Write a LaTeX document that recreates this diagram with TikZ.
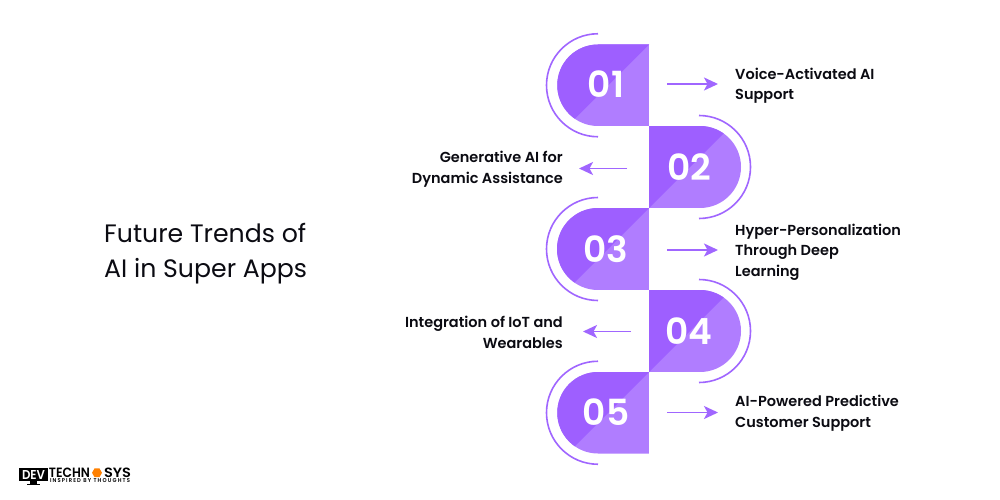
\documentclass[tikz,border=0pt]{standalone}
\usepackage{graphicx}
\usepackage{fontspec}
\setmainfont{Poppins}[BoldFont={Poppins SemiBold}]
\definecolor{pdark}{HTML}{9E5FFF}
\definecolor{plight}{HTML}{B07DFF}
\definecolor{pline}{HTML}{A066FF}
\definecolor{tx}{HTML}{0B0B12}
\usetikzlibrary{arrows.meta,shapes.geometric}
\tikzset{
  x=1pt,y=-1pt,
  numlab/.style={text=white,font=\fontsize{36}{36}\selectfont\bfseries,inner sep=0pt,anchor=center},
  rlab/.style={text=tx,font=\fontsize{14.5}{20.5}\selectfont\bfseries,align=left,anchor=west,inner sep=0pt},
  llab/.style={text=tx,font=\fontsize{14.5}{20.5}\selectfont\bfseries,align=right,anchor=east,inner sep=0pt},
  ttl/.style={text=tx,font=\fontsize{25.2}{35}\selectfont,align=left,anchor=west,inner sep=0pt},
  ringarc/.style={draw=pline,line width=1.6pt},
  flow/.style={draw=pline,line width=1.8pt,-{Stealth[length=14pt,width=13pt,inset=3.5pt]}},
  logotxt/.style={text=black,font=\bfseries,inner sep=0pt,anchor=center},
}
\newcommand{\leftcap}[2]{% top y, bottom y
  \pgfmathsetmacro{\capr}{(#2-#1)/2}
  \begin{scope}
    \clip (649,#1) -- (598,#1) arc[start angle=-90,end angle=-270,radius=\capr] -- (649,#2) -- cycle;
    \fill[plight] (540,#1) rectangle (649,#2);
    \fill[pdark] (649,#1) -- (540,#1) -- (540,#1+109) -- cycle;
  \end{scope}
  \draw[ringarc] (598,{(#1+#2)/2-51.5}) arc[start angle=-90,end angle=-270,radius=51.5];
}
\newcommand{\rightcap}[2]{%
  \pgfmathsetmacro{\capr}{(#2-#1)/2}
  \begin{scope}
    \clip (649,#1) -- (700,#1) arc[start angle=-90,end angle=90,radius=\capr] -- (649,#2) -- cycle;
    \fill[plight] (649,#1) rectangle (760,#2);
    \fill[pdark] (649,#2) -- (649,#1) -- (760,#1) -- (760,#2-111) -- cycle;
  \end{scope}
  \draw[ringarc] (699,{(#1+#2)/2-51.5}) arc[start angle=-90,end angle=90,radius=51.5];
}
\begin{document}
\begin{tikzpicture}
\useasboundingbox (0,0) rectangle (1000,500);
\fill[white] (0,0) rectangle (1000,500);
\leftcap{44.5}{126}
\rightcap{126}{208}
\leftcap{208}{290}
\rightcap{290}{372}
\leftcap{372}{453.5}

\node[numlab] (n1) at (606,84) {01};
\node[numlab] (n2) at (689,167) {02};
\node[numlab] (n3) at (606,249) {03};
\node[numlab] (n4) at (689,331) {04};
\node[numlab] (n5) at (606,412) {05};

\node[rlab] (t1) at (735,85.5) {Voice-Activated AI\\Support};
\node[llab] (t2) at (563,169) {Generative AI for\\Dynamic Assistance};
\node[rlab] (t3) at (735,252) {Hyper-Personalization\\Through Deep\\Learning};
\node[llab] (t4) at (563,332.5) {Integration of IoT and\\Wearables};
\node[rlab] (t5) at (735,413) {AI-Powered Predictive\\Customer Support};
\node[ttl] (title) at (104,253.5) {Future Trends of\\AI in Super Apps};

\coordinate (a1s) at (667,84);   \coordinate (a1e) at (718,84);
\coordinate (a2s) at (627,168.5);\coordinate (a2e) at (579,168.5);
\coordinate (a3s) at (667,250);  \coordinate (a3e) at (718,250);
\coordinate (a4s) at (631,331.5);\coordinate (a4e) at (583,331.5);
\coordinate (a5s) at (667,412.5);\coordinate (a5e) at (718,412.5);
\draw[flow] (a1s) -- (a1e);
\draw[flow] (a2s) -- (a2e);
\draw[flow] (a3s) -- (a3e);
\draw[flow] (a4s) -- (a4e);
\draw[flow] (a5s) -- (a5e);

% logo
\fill[black] (19,468) rectangle (48,481);
\fill[black] (30,481) rectangle (37,484);
\fill[black] (27,484) rectangle (40,485.2);
\node[logotxt,text=white] (ldev) at (33.5,474.5) {\resizebox{23pt}{9pt}{DEV}};
\node[logotxt] (ltech) at (69.5,472.8) {\resizebox{41pt}{9.5pt}{TECHN}};
\node[fill=orange,regular polygon,regular polygon sides=6,minimum size=10pt,inner sep=0pt] (lo) at (97,472.8) {};
\node[logotxt] (lsys) at (117.5,472.8) {\resizebox{27pt}{9.5pt}{SYS}};
\node[logotxt] (ltag) at (90,481) {\resizebox{80pt}{4pt}{\addfontfeatures{LetterSpace=22}INSPIRED BY THOUGHTS}};
\end{tikzpicture}
\end{document}
